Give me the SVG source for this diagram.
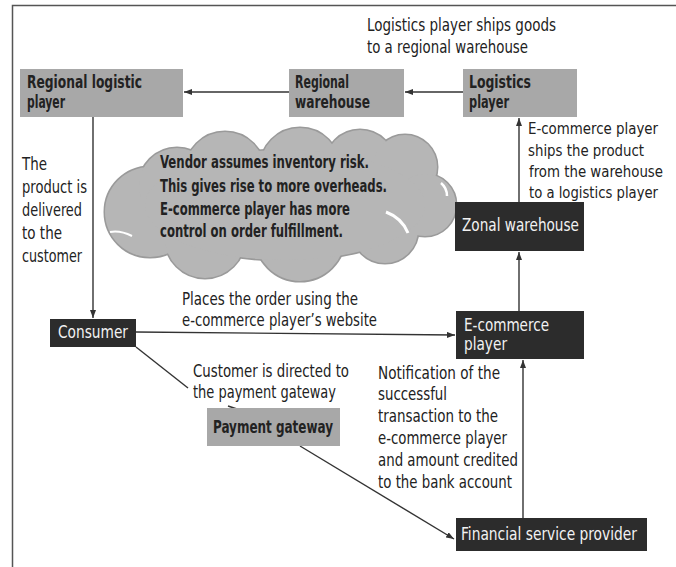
<svg xmlns="http://www.w3.org/2000/svg" width="676" height="567" viewBox="0 0 676 567">
<defs>
<style>
text{font-family:"Liberation Sans Narrow","DejaVu Sans Condensed","Liberation Sans",Arial,sans-serif;font-size:17px;fill:#222}
.b{font-weight:bold}
.w{fill:#f2f2f2}
.s16{font-size:16px}
.gray{fill:#a8a8a8}
.dark{fill:#2c2c2c}
.conn line{stroke:#333;stroke-width:1.4;fill:none}
.frame{stroke:#555;stroke-width:1.5;fill:none}
.cl circle,.cl ellipse{stroke:#9a9a9a;stroke-width:3;fill:#b6b6b6}
.cf circle,.cf ellipse{fill:#b6b6b6}
.notch{stroke:#fff;fill:none}
</style>
<marker id="ah" viewBox="0 0 8 6" refX="8" refY="3" markerWidth="8" markerHeight="6" markerUnits="userSpaceOnUse" orient="auto">
<path d="M0,0 L8,3 L0,6 z" fill="#333"/>
</marker>
</defs>
<rect width="676" height="567" fill="#fff"/>
<path class="frame" d="M676,5.5 H12.5 V567"/>

<g id="cloud">
<g class="cl">
<circle cx="150" cy="212" r="45"/>
<circle cx="177" cy="186" r="38"/>
<circle cx="225" cy="172" r="40"/>
<circle cx="300" cy="168" r="40"/>
<circle cx="360" cy="165" r="35"/>
<circle cx="405" cy="167" r="32"/>
<circle cx="425" cy="205" r="31"/>
<circle cx="385" cy="230" r="33"/>
<circle cx="300" cy="236" r="45"/>
<circle cx="205" cy="238" r="40"/>
<ellipse cx="285" cy="205" rx="140" ry="55"/>
</g>
<g class="cf">
<circle cx="150" cy="212" r="45"/>
<circle cx="177" cy="186" r="38"/>
<circle cx="225" cy="172" r="40"/>
<circle cx="300" cy="168" r="40"/>
<circle cx="360" cy="165" r="35"/>
<circle cx="405" cy="167" r="32"/>
<circle cx="425" cy="205" r="31"/>
<circle cx="385" cy="230" r="33"/>
<circle cx="300" cy="236" r="45"/>
<circle cx="205" cy="238" r="40"/>
<ellipse cx="285" cy="205" rx="140" ry="55"/>
</g>
<path class="notch" d="M441,183 Q447,188 447,196" stroke-width="2.5"/>
<path class="notch" d="M386,212 Q402,218 408,233" stroke-width="3"/>
<path class="notch" d="M110,232 Q120,230 132,236" stroke-width="2"/>
<text class="b" x="160" y="168" textLength="209" lengthAdjust="spacingAndGlyphs">Vendor assumes inventory risk.</text>
<text class="b" x="160" y="192" textLength="227" lengthAdjust="spacingAndGlyphs">This gives rise to more overheads.</text>
<text class="b" x="160" y="215" textLength="190" lengthAdjust="spacingAndGlyphs">E-commerce player has more</text>
<text class="b" x="160" y="237" textLength="183" lengthAdjust="spacingAndGlyphs">control on order fulfillment.</text>
</g>

<g class="conn">
<line x1="289" y1="92" x2="184" y2="92" marker-end="url(#ah)"/>
<line x1="463" y1="92" x2="405" y2="92" marker-end="url(#ah)"/>
<line x1="519" y1="202" x2="519" y2="118" marker-end="url(#ah)"/>
<line x1="519" y1="311" x2="519" y2="252" marker-end="url(#ah)"/>
<line x1="93" y1="117" x2="93" y2="318" marker-end="url(#ah)"/>
<line x1="136" y1="332" x2="455" y2="335" marker-end="url(#ah)"/>
<line x1="136" y1="347" x2="188" y2="388"/>
<line x1="228" y1="406" x2="240" y2="410"/>
<line x1="300" y1="446" x2="454" y2="539" marker-end="url(#ah)"/>
<line x1="523" y1="518" x2="523" y2="360" marker-end="url(#ah)"/>
</g>

<g id="regional-logistic-player">
<rect class="gray" x="20" y="69" width="163" height="48"/>
<text class="b" x="27" y="88" textLength="115" lengthAdjust="spacingAndGlyphs">Regional logistic</text>
<text class="b" x="27" y="108" textLength="38" lengthAdjust="spacingAndGlyphs">player</text>
</g>
<g id="regional-warehouse">
<rect class="gray" x="289" y="69" width="115" height="48"/>
<text class="b" x="295" y="88" textLength="54" lengthAdjust="spacingAndGlyphs">Regional</text>
<text class="b" x="295" y="108" textLength="75" lengthAdjust="spacingAndGlyphs">warehouse</text>
</g>
<g id="logistics-player">
<rect class="gray" x="463" y="69" width="114" height="48"/>
<text class="b" x="469" y="88" textLength="62" lengthAdjust="spacingAndGlyphs">Logistics</text>
<text class="b" x="469" y="108" textLength="40" lengthAdjust="spacingAndGlyphs">player</text>
</g>
<g id="zonal-warehouse">
<rect class="dark" x="455" y="202" width="129" height="49"/>
<text class="w" x="462" y="231" textLength="117" lengthAdjust="spacingAndGlyphs">Zonal warehouse</text>
</g>
<g id="consumer">
<rect class="dark" x="50" y="319" width="86" height="28"/>
<text class="w" x="58" y="338" textLength="70" lengthAdjust="spacingAndGlyphs">Consumer</text>
</g>
<g id="e-commerce-player">
<rect class="dark" x="456" y="311" width="128" height="48"/>
<text class="w" x="464" y="331" textLength="85" lengthAdjust="spacingAndGlyphs">E-commerce</text>
<text class="w" x="464" y="350" textLength="43" lengthAdjust="spacingAndGlyphs">player</text>
</g>
<g id="payment-gateway">
<rect class="gray" x="207" y="408" width="133" height="38"/>
<text class="b" x="213" y="433" textLength="120" lengthAdjust="spacingAndGlyphs">Payment gateway</text>
</g>
<g id="financial-service-provider">
<rect class="dark" x="456" y="518" width="191" height="33"/>
<text class="w" x="461" y="540" textLength="176" lengthAdjust="spacingAndGlyphs">Financial service provider</text>
</g>

<g id="labels">
<text x="367" y="31" textLength="189" lengthAdjust="spacingAndGlyphs">Logistics player ships goods</text>
<text x="367" y="53" textLength="161" lengthAdjust="spacingAndGlyphs">to a regional warehouse</text>
<text class="s16" x="528" y="134" textLength="130" lengthAdjust="spacingAndGlyphs">E-commerce player</text>
<text class="s16" x="528" y="156" textLength="116" lengthAdjust="spacingAndGlyphs">ships the product</text>
<text class="s16" x="529" y="177" textLength="134" lengthAdjust="spacingAndGlyphs">from the warehouse</text>
<text class="s16" x="529" y="198" textLength="129" lengthAdjust="spacingAndGlyphs">to a logistics player</text>
<text x="22" y="170" textLength="25" lengthAdjust="spacingAndGlyphs">The</text>
<text x="22" y="193" textLength="65" lengthAdjust="spacingAndGlyphs">product is</text>
<text x="22" y="216" textLength="60" lengthAdjust="spacingAndGlyphs">delivered</text>
<text x="22" y="239" textLength="40" lengthAdjust="spacingAndGlyphs">to the</text>
<text x="22" y="262" textLength="60" lengthAdjust="spacingAndGlyphs">customer</text>
<text x="182" y="305" textLength="176" lengthAdjust="spacingAndGlyphs">Places the order using the</text>
<text x="182" y="326" textLength="195" lengthAdjust="spacingAndGlyphs">e-commerce player’s website</text>
<text x="193" y="377" textLength="156" lengthAdjust="spacingAndGlyphs">Customer is directed to</text>
<text x="193" y="398" textLength="143" lengthAdjust="spacingAndGlyphs">the payment gateway</text>
<text x="378" y="379" textLength="122" lengthAdjust="spacingAndGlyphs">Notification of the</text>
<text x="378" y="400" textLength="69" lengthAdjust="spacingAndGlyphs">successful</text>
<text x="378" y="422" textLength="120" lengthAdjust="spacingAndGlyphs">transaction to the</text>
<text x="378" y="444" textLength="129" lengthAdjust="spacingAndGlyphs">e-commerce player</text>
<text x="378" y="466" textLength="140" lengthAdjust="spacingAndGlyphs">and amount credited</text>
<text x="378" y="488" textLength="134" lengthAdjust="spacingAndGlyphs">to the bank account</text>
</g>
</svg>
